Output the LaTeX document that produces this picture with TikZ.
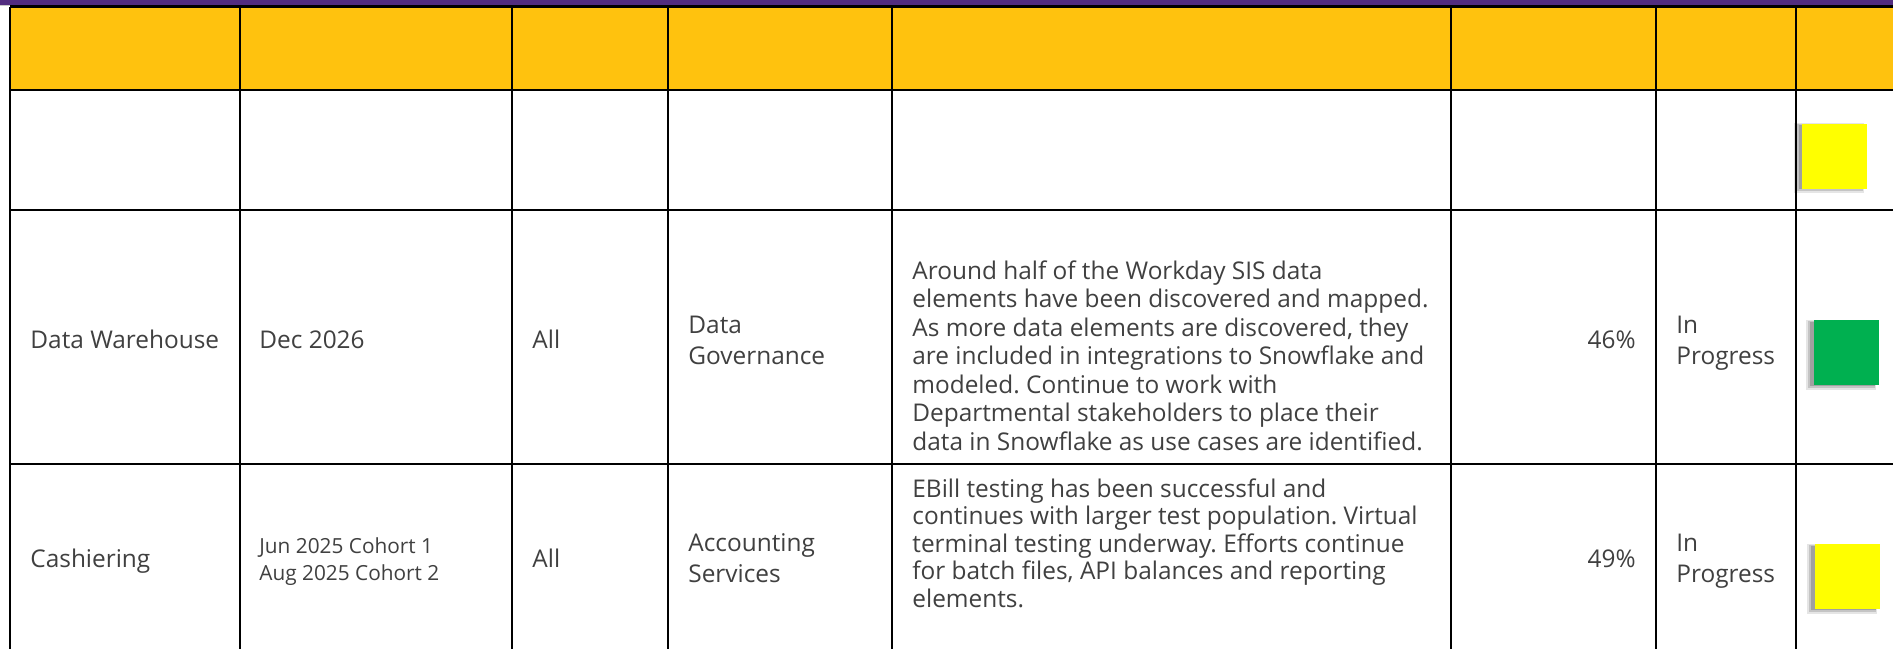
\documentclass[tikz,border=0pt]{standalone}
\usepackage{fontspec}
\setmainfont{Open Sans}
\usetikzlibrary{shadows}
\definecolor{txt}{RGB}{64,64,64}
\definecolor{purp}{RGB}{82,45,128}
\definecolor{gold}{RGB}{255,194,14}
\definecolor{stgreen}{RGB}{0,176,80}
\definecolor{styellow}{RGB}{255,255,0}
\definecolor{gapgray}{RGB}{200,200,200}
\frenchspacing
\begin{document}
\begin{tikzpicture}[x=0.5pt,y=-0.5pt,
  font=\fontsize{12.2}{14}\selectfont,
  cell/.style={anchor=base west, inner sep=0pt, text=txt},
  cellr/.style={anchor=base east, inner sep=0pt, text=txt},
  small/.style={font=\fontsize{10.4}{12}\selectfont},
  headline/.style={draw=black, line width=1.3pt},
  bodyline/.style={draw=black, line width=1pt},
  statusbox/.style={inner sep=0pt, minimum width=32.5pt, minimum height=32.5pt, draw=none,
    drop shadow={shadow xshift=-2.4pt, shadow yshift=-1pt, shadow scale=1.08, opacity=0.10, fill=black},
    drop shadow={shadow xshift=-2.2pt, shadow yshift=-0.8pt, shadow scale=1.03, opacity=0.14, fill=black},
    drop shadow={shadow xshift=-1.8pt, shadow yshift=-0.6pt, shadow scale=0.99, opacity=0.18, fill=black}}]
\useasboundingbox (0,0) rectangle (1893,649);
\fill[white] (0,0) rectangle (1893,649);
% top band
\fill[purp] (0,0) rectangle (1893,4.5);
\fill[gapgray] (0,4.5) rectangle (1893,5.5);
% header fill
\fill[gold] (10,6.5) rectangle (1893,90);
% horizontal lines
\draw[headline] (10,6.5) -- (1893,6.5);
\draw[headline] (10,90) -- (1893,90);
\draw[bodyline] (10,210) -- (1893,210);
\draw[bodyline] (10,464) -- (1893,464);
% vertical lines
\foreach \x in {10,240,512,668,892,1451,1656,1796}{
  \draw[headline] (\x,6.5) -- (\x,90);
  \draw[bodyline] (\x,90) -- (\x,649);
}
% status boxes
\node[statusbox, fill=styellow] (st1) at (1834.5,156) {};
\node[statusbox, fill=stgreen] (st2) at (1846,352.5) {};
\node[statusbox, fill=styellow] (st3) at (1847,576.5) {};
% row 2
\node[cell] (p2) at (30,348) {Data Warehouse};
\node[cell] (d2) at (259,348) {Dec 2026};
\node[cell] (a2) at (532,348) {All};
\node[cell] (o2a) at (688,333) {Data};
\node[cell] (o2b) at (688,364) {Governance};
\node[cell] (n2a) at (912,279) {Around half of the Workday SIS data};
\node[cell] (n2b) at (912,307.5) {elements have been discovered and mapped.};
\node[cell] (n2c) at (912,336) {As more data elements are discovered, they};
\node[cell] (n2d) at (912,364.5) {are included in integrations to Snowflake and};
\node[cell] (n2e) at (912,393) {modeled. Continue to work with};
\node[cell] (n2f) at (912,421.5) {Departmental stakeholders to place their};
\node[cell] (n2g) at (912,450) {data in Snowflake as use cases are identified.};
\node[cellr] (c2) at (1636,348) {46\%};
\node[cell] (s2a) at (1676,333) {In};
\node[cell] (s2b) at (1676,364) {Progress};
% row 3
\node[cell] (p3) at (30,567) {Cashiering};
\node[cell, small] (d3a) at (259,553) {Jun 2025 Cohort 1};
\node[cell, small] (d3b) at (259,580) {Aug 2025 Cohort 2};
\node[cell] (a3) at (532,567) {All};
\node[cell] (o3a) at (688,551) {Accounting};
\node[cell] (o3b) at (688,582) {Services};
\node[cell] (n3a) at (912,497) {EBill testing has been successful and};
\node[cell] (n3b) at (912,524.5) {continues with larger test population. Virtual};
\node[cell] (n3c) at (912,552) {terminal testing underway. Efforts continue};
\node[cell] (n3d) at (912,579.5) {for batch files, API balances and reporting};
\node[cell] (n3e) at (912,607) {elements.};
\node[cellr] (c3) at (1636,567) {49\%};
\node[cell] (s3a) at (1676,551) {In};
\node[cell] (s3b) at (1676,582) {Progress};
\end{tikzpicture}
\end{document}
